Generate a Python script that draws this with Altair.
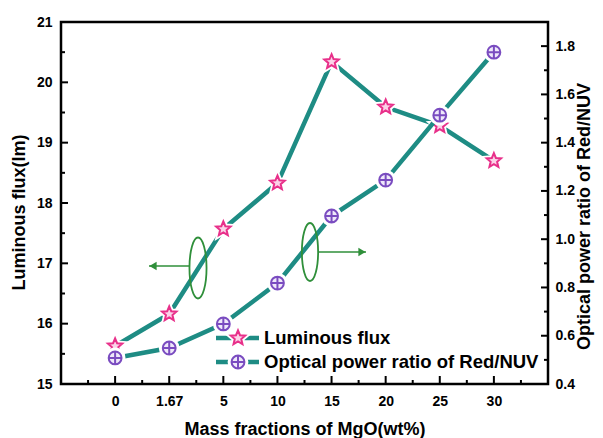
import json
import altair as alt
import pandas as pd

# ---------------- data ----------------
categories = ["0", "1.67", "5", "10", "15", "20", "25", "30"]
luminous_flux = [15.63, 16.16, 17.57, 18.33, 20.34, 19.59, 19.28, 18.70]
power_ratio = [0.508, 0.549, 0.649, 0.818, 1.096, 1.245, 1.514, 1.775]

left_major = [15, 16, 17, 18, 19, 20, 21]
left_minor = [15.5, 16.5, 17.5, 18.5, 19.5, 20.5]
right_major = [0.4, 0.6, 0.8, 1.0, 1.2, 1.4, 1.6, 1.8]
right_minor = [0.5, 0.7, 0.9, 1.1, 1.3, 1.5, 1.7, 1.9]
x_major = [0, 1, 2, 3, 4, 5, 6, 7]
x_minor = [-0.5, 0.5, 1.5, 2.5, 3.5, 4.5, 5.5, 6.5, 7.5]

legend_labels = ["Luminous flux", "Optical power ratio of Red/NUV"]

# ---------------- style ----------------
FONT = "Liberation Sans"
TEAL = "#1e8c84"
STAR_STROKE = "#e8308a"
STAR_FILL = "#fbd3e8"
CIRC_STROKE = "#7a4cc0"
CIRC_FILL = "#efe8fa"
GREEN = "#2f8f3a"

STAR = ("M0,-1L0.265,-0.364L0.951,-0.309L0.428,0.139L0.588,0.809L0,0.45"
        "L-0.588,0.809L-0.428,0.139L-0.951,-0.309L-0.265,-0.364Z")
CIRCPLUS = ("M-1,0A1,1,0,1,1,1,0A1,1,0,1,1,-1,0Z"
            "M-1,0L1,0M0,-1L0,1")
a = 0.28
k = 0.5523 * a
ELLIPSE = (f"M0,-1C{k},-1,{a},-0.5523,{a},0C{a},0.5523,{k},1,0,1"
           f"C{-k},1,{-a},0.5523,{-a},0C{-a},-0.5523,{-k},-1,0,-1Z")

W, H = 487, 362
PAD_L = 53

df = pd.DataFrame({
    "idx": list(range(len(categories))),
    "cat": categories,
    "flux": luminous_flux,
    "ratio": power_ratio,
})
one = pd.DataFrame({"a": [0]})

xscale = alt.Scale(domain=[-1, 8], nice=False, zero=False)
ylscale = alt.Scale(domain=[15, 21], nice=False, zero=False)
yrscale = alt.Scale(domain=[0.4, 1.9], nice=False, zero=False)

label_expr = json.dumps(categories) + "[datum.value]"
x_axis = alt.Axis(values=x_major, labelExpr=label_expr,
                  title="Mass fractions of MgO(wt%)", ticks=False, tickSize=0,
                  domain=False, grid=False, labelPadding=10, titlePadding=12)
left_axis = alt.Axis(values=left_major, title="Luminous flux(lm)", ticks=False,
                     tickSize=0, domain=False, grid=False, labelPadding=9,
                     titlePadding=8, titleFontSize=18, titleY=190)
right_axis = alt.Axis(values=right_major, format=".1f", orient="right",
                      title="Optical power ratio of Red/NUV", ticks=False,
                      tickSize=0, domain=False, grid=False, labelPadding=7,
                      titlePadding=1.5, titleAngle=270, titleBaseline="top",
                      titleFontSize=18, titleY=194)


def X(field):
    return alt.X(field, type="quantitative", scale=xscale, axis=x_axis)


def YL(field):
    return alt.Y(field, type="quantitative", scale=ylscale, axis=left_axis)


def YR(field):
    return alt.Y(field, type="quantitative", scale=yrscale, axis=right_axis)


base = alt.Chart(df)

# ---- left (luminous flux) ----
flux_line = base.mark_line(color=TEAL, strokeWidth=4.5).encode(x=X("idx"), y=YL("flux"))
flux_halo = base.mark_point(shape=STAR, size=280, filled=True, fill="white",
                            stroke="white", strokeWidth=5, opacity=1).encode(
    x=X("idx"), y=YL("flux"))
flux_pts = base.mark_point(shape=STAR, size=230, filled=True, fill=STAR_FILL,
                           stroke=STAR_STROKE, strokeWidth=2, opacity=1).encode(
    x=X("idx"), y=YL("flux"))

lmaj = alt.Chart(pd.DataFrame({"v": left_major})).mark_rule(
    color="black", strokeWidth=2).encode(y=YL("v"), x=alt.value(0), x2=alt.value(7))
lmin = alt.Chart(pd.DataFrame({"v": left_minor})).mark_rule(
    color="black", strokeWidth=2).encode(y=YL("v"), x=alt.value(0), x2=alt.value(4))

left_group = alt.layer(flux_line, lmaj, lmin, flux_halo, flux_pts)

# ---- right (optical power ratio) ----
ratio_line = base.mark_line(color=TEAL, strokeWidth=4.5).encode(x=X("idx"), y=YR("ratio"))
ratio_halo = base.mark_point(shape="circle", size=250, filled=True, fill="white",
                             stroke="white", strokeWidth=5, opacity=1).encode(
    x=X("idx"), y=YR("ratio"))
ratio_pts = base.mark_point(shape=CIRCPLUS, size=165, filled=True, fill=CIRC_FILL,
                            stroke=CIRC_STROKE, strokeWidth=2, opacity=1).encode(
    x=X("idx"), y=YR("ratio"))

rmaj = alt.Chart(pd.DataFrame({"v": right_major})).mark_rule(
    color="black", strokeWidth=2).encode(y=YR("v"), x=alt.value(W), x2=alt.value(W - 7))
rmin = alt.Chart(pd.DataFrame({"v": right_minor})).mark_rule(
    color="black", strokeWidth=2).encode(y=YR("v"), x=alt.value(W), x2=alt.value(W - 4))

right_group = alt.layer(ratio_line, rmaj, rmin, ratio_halo, ratio_pts)

# ---- bottom ticks ----
bmaj = alt.Chart(pd.DataFrame({"v": x_major})).mark_rule(
    color="black", strokeWidth=2).encode(x=X("v"), y=alt.value(H), y2=alt.value(H - 8))
bmin = alt.Chart(pd.DataFrame({"v": x_minor})).mark_rule(
    color="black", strokeWidth=2).encode(x=X("v"), y=alt.value(H), y2=alt.value(H - 4))


# ---- annotations (ellipses + arrows) ----
def ellipse(cx, cy, hgt):
    return alt.Chart(one).mark_point(shape=ELLIPSE, size=hgt * hgt, filled=False,
                                     stroke=GREEN, strokeWidth=1.8, opacity=1).encode(
        x=alt.value(cx), y=alt.value(cy))


def arrow(x1, x2, y, head):
    shaft = alt.Chart(one).mark_rule(color=GREEN, strokeWidth=1.6).encode(
        x=alt.value(x1), x2=alt.value(x2), y=alt.value(y))
    hx = x2 + 4 if head == "triangle-left" else x2 - 4
    tip = alt.Chart(one).mark_point(shape=head, size=70, filled=True,
                                    color=GREEN, opacity=1).encode(
        x=alt.value(hx), y=alt.value(y))
    return shaft + tip


ann = alt.layer(
    ellipse(137, 246, 61), arrow(128, 88, 244, "triangle-left"),
    ellipse(249, 230, 58), arrow(258, 305, 230, "triangle-right"),
)


# ---- legend ----
def legend_row(y, shape, size, fill, stroke, label, halo_shape, halo_size):
    line = alt.Chart(one).mark_rule(color=TEAL, strokeWidth=4.5).encode(
        x=alt.value(155), x2=alt.value(198), y=alt.value(y))
    halo = alt.Chart(one).mark_point(shape=halo_shape, size=halo_size, filled=True,
                                     fill="white", stroke="white", strokeWidth=5,
                                     opacity=1).encode(x=alt.value(177), y=alt.value(y))
    sym = alt.Chart(one).mark_point(shape=shape, size=size, filled=True, fill=fill,
                                    stroke=stroke, strokeWidth=2, opacity=1).encode(
        x=alt.value(177), y=alt.value(y))
    txt = alt.Chart(pd.DataFrame({"t": [label]})).mark_text(
        align="left", baseline="middle", font=FONT, fontWeight="bold",
        fontSize=18.5, color="black").encode(
        x=alt.value(203), y=alt.value(y), text="t:N")
    return line + halo + sym + txt


legend = alt.layer(
    legend_row(316, STAR, 230, STAR_FILL, STAR_STROKE, legend_labels[0], STAR, 280),
    legend_row(340, CIRCPLUS, 165, CIRC_FILL, CIRC_STROKE, legend_labels[1], "circle", 250),
)

chart = alt.layer(
    left_group, right_group, bmaj, bmin, ann, legend
).resolve_scale(y="independent").properties(
    width=W, height=H,
    autosize=alt.AutoSizeParams(type="none"),
    padding={"left": PAD_L, "top": 14, "right": 587 - PAD_L - W, "bottom": 58},
).configure_view(stroke="black", strokeWidth=2.5).configure_axis(
    labelFont=FONT, labelFontWeight="bold", labelFontSize=14, labelColor="black",
    titleFont=FONT, titleFontWeight="bold", titleFontSize=18, titleColor="black",
)

chart.save("out.html", embed_options={"renderer": "svg", "actions": False})
